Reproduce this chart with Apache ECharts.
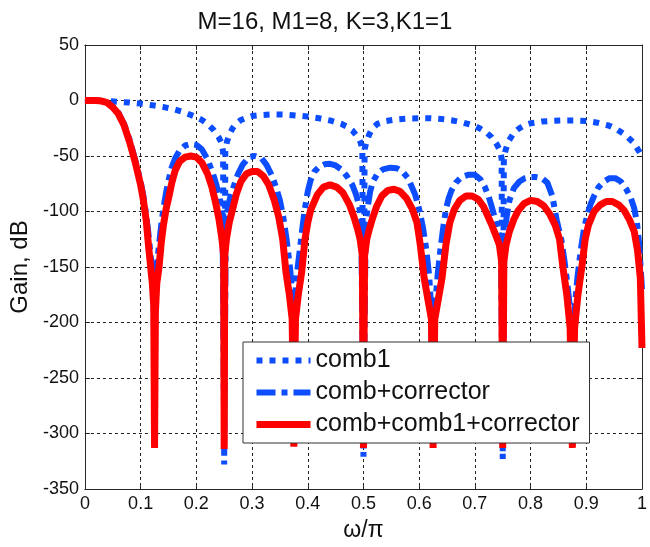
<!DOCTYPE html>
<html>
<head>
<meta charset="utf-8">
<script src="https://cdn.jsdelivr.net/npm/echarts@6/dist/echarts.min.js"></script>
<style>html,body{margin:0;padding:0;background:#fff;}#chart{width:650px;height:547px;}</style>
</head>
<body>
<div id="chart"></div>
<script>
const chartTitle = 'M=16, M1=8, K=3,K1=1';
const seriesNames = ['comb1', 'comb+corrector', 'comb+comb1+corrector'];
const xTickLabels = ['0','0.1','0.2','0.3','0.4','0.5','0.6','0.7','0.8','0.9','1'];
const yTickLabels = ['-350','-300','-250','-200','-150','-100','-50','0','50'];

const comb1X = [0,0.04,0.08,0.1,0.12,0.14,0.16,0.18,0.2,0.21,0.22,0.23,0.24,0.245,0.248,0.25,0.252,0.255,0.26,0.265,0.27,0.28,0.29,0.3,0.32,0.34,0.36,0.38,0.4,0.42,0.44,0.46,0.47,0.48,0.49,0.495,0.498,0.5,0.502,0.505,0.51,0.516,0.525,0.54,0.56,0.58,0.6,0.62,0.64,0.66,0.68,0.7,0.71,0.72,0.73,0.74,0.745,0.748,0.75,0.752,0.755,0.76,0.77,0.78,0.79,0.8,0.82,0.84,0.86,0.88,0.9,0.92,0.94,0.955,0.97,0.985,0.995,1.0];
const comb1Y = [0,-0.5,-1.8,-2.8,-4.2,-5.8,-8,-11,-15,-17.5,-21,-26,-33,-38,-46,-328,-46,-37,-30,-25,-21.5,-17.5,-15.5,-14,-13,-12.5,-12.7,-13.5,-14.5,-16,-18,-21,-23.5,-27,-33,-38,-44,-321,-44,-38,-31,-25,-21,-18.5,-17,-16.2,-16,-16,-16.7,-18,-20,-23,-25.5,-28.5,-33,-40,-45,-52,-323,-52,-45,-37,-29,-25,-22,-20.5,-19,-18.3,-18,-18,-18.5,-20,-22.5,-26,-31,-38,-46,-50];

const corrX = [0,0.01,0.02,0.03,0.04,0.05,0.06,0.07,0.08,0.09,0.1,0.105,0.11,0.114,0.118,0.121,0.1235,0.125,
  0.1265,0.129,0.133,0.137,0.141,0.146,0.151,0.156,0.162,0.17,0.18,0.19,0.2,0.21,0.22,0.23,0.236,0.242,0.247,0.25,
  0.253,0.257,0.262,0.268,0.275,0.283,0.294,0.305,0.317,0.326,0.335,0.343,0.35,0.356,0.362,0.368,0.372,0.375,
  0.378,0.382,0.388,0.394,0.4,0.405,0.412,0.42,0.43,0.44,0.45,0.46,0.47,0.48,0.487,0.492,0.496,0.5,
  0.504,0.508,0.512,0.517,0.525,0.535,0.548,0.56,0.57,0.58,0.593,0.6,0.607,0.613,0.618,0.621,0.625,
  0.629,0.633,0.638,0.643,0.648,0.653,0.658,0.666,0.676,0.688,0.7,0.71,0.718,0.725,0.731,0.737,0.743,0.747,0.75,
  0.753,0.757,0.762,0.77,0.78,0.79,0.8,0.81,0.82,0.83,0.839,0.847,0.855,0.861,0.866,0.871,0.875,
  0.879,0.884,0.89,0.896,0.902,0.908,0.914,0.922,0.932,0.942,0.952,0.962,0.972,0.98,0.986,0.991,0.995,1.0];
const corrY = [0,0,0,-0.4,-1.8,-5.5,-11,-21,-35,-53,-73,-86,-103,-120,-140,-155,-170,-300,
  -172,-150,-130,-112,-97,-82,-70,-60,-52,-45,-40.5,-39,-40,-44,-53,-66,-76,-88,-106,-300,
  -110,-95,-85,-76,-66,-58,-51,-50,-52,-58,-67,-78,-90,-105,-125,-150,-172,-300,
  -172,-150,-125,-100,-82,-72,-64,-60,-57.5,-57,-58.5,-62,-68,-76,-85,-95,-108,-300,
  -110,-95,-82,-73,-66,-62,-60.5,-61,-64,-70,-85,-98,-115,-135,-158,-183,-300,
  -183,-158,-135,-115,-98,-88,-81,-74,-69,-67,-67,-71,-78,-87,-97,-108,-120,-140,-300,
  -120,-105,-90,-79,-73,-70,-69,-69,-70,-74,-86,-108,-125,-145,-165,-188,-300,
  -188,-160,-135,-115,-103,-93,-86,-78,-73,-70,-70,-73,-80,-88,-97,-110,-130,-170];

const redX = [0,0.01,0.02,0.03,0.04,0.05,0.06,0.07,0.08,0.09,0.1,0.105,0.11,0.114,0.118,0.121,0.1235,0.125,
  0.1265,0.129,0.133,0.137,0.141,0.146,0.151,0.156,0.162,0.17,0.18,0.19,0.2,0.21,0.22,0.228,0.235,0.241,0.246,0.249,0.25,
  0.251,0.254,0.259,0.265,0.272,0.28,0.29,0.3,0.31,0.32,0.33,0.34,0.348,0.355,0.361,0.367,0.372,0.375,
  0.378,0.383,0.389,0.395,0.4,0.405,0.417,0.428,0.44,0.452,0.463,0.475,0.483,0.489,0.494,0.498,0.5,
  0.502,0.506,0.511,0.517,0.524,0.533,0.544,0.555,0.566,0.577,0.588,0.596,0.602,0.609,0.616,0.622,0.625,
  0.628,0.634,0.641,0.648,0.655,0.663,0.673,0.684,0.695,0.706,0.716,0.724,0.731,0.738,0.744,0.748,0.75,
  0.752,0.756,0.762,0.77,0.778,0.788,0.8,0.812,0.824,0.834,0.844,0.852,0.858,0.865,0.871,0.875,
  0.879,0.885,0.892,0.898,0.904,0.914,0.925,0.936,0.947,0.958,0.968,0.978,0.986,0.992,0.997,1.0];
const redY = [0,0,0,-0.5,-2,-6,-12,-22,-37,-55,-76,-90,-108,-130,-150,-165,-185,-313,
  -190,-165,-150,-128,-112,-97,-86,-74,-63,-55,-51,-50,-51,-56,-66,-78,-93,-108,-125,-140,-314,
  -140,-125,-110,-98,-84,-73,-66,-64,-64,-68,-76,-90,-105,-125,-155,-175,-197,-312,
  -197,-175,-155,-125,-110,-99,-85,-78,-76,-78,-83,-94,-105,-115,-125,-140,-313,
  -140,-125,-115,-105,-95,-86,-81,-80,-82,-88,-98,-110,-130,-160,-180,-197,-313,
  -197,-180,-160,-130,-110,-98,-90,-86,-86,-89,-96,-105,-113,-122,-130,-145,-313,
  -145,-130,-118,-107,-99,-93,-90,-91,-95,-102,-112,-125,-150,-175,-205,-313,
  -205,-175,-150,-125,-112,-100,-94,-91,-91,-94,-99,-108,-118,-135,-160,-223];

const blue = '#0b4dff';
const red = '#ff0000';

function pairs(xs, ys) { return xs.map((x, i) => [x, ys[i]]); }

const chart = echarts.init(document.getElementById('chart'), null, {renderer: 'canvas'});
const font = 'Liberation Sans, Arial, sans-serif';
const gridLine = {show: true, lineStyle: {color: '#222', width: 1, type: [3, 3]}};
const axisLine = {show: true, onZero: false, lineStyle: {color: '#262626', width: 1}};
const tick = {show: true, inside: true, length: 5, lineStyle: {color: '#262626'}};
const hideMark = {opacity: 0, color: 'transparent', borderWidth: 0};

chart.setOption({
  animation: false,
  backgroundColor: '#fff',
  title: {text: chartTitle, left: 'center', top: 5, textStyle: {fontFamily: font, fontSize: 24, fontWeight: 'normal', color: '#111'}},
  grid: {left: 79, right: 1, top: 45, bottom: 51},
  legend: {
    orient: 'vertical', left: 243, top: 342,
    backgroundColor: '#fff', borderColor: '#333', borderWidth: 1,
    padding: [6, 10, 6, 10], itemGap: 7, itemWidth: 54, itemHeight: 14,
    textStyle: {fontFamily: font, fontSize: 25, color: '#111'},
    data: [
      {name: seriesNames[0], lineStyle: {width: 6}, itemStyle: hideMark},
      {name: seriesNames[1], lineStyle: {width: 6}, itemStyle: hideMark},
      {name: seriesNames[2], lineStyle: {width: 7}, itemStyle: hideMark}
    ]
  },
  xAxis: [{
    type: 'value', min: 0, max: 1, interval: 0.1,
    name: 'ω/π', nameLocation: 'middle', nameGap: 30,
    nameTextStyle: {fontFamily: font, fontSize: 23, color: '#111'},
    axisLine: axisLine, axisTick: tick,
    axisLabel: {fontFamily: font, fontSize: 18, color: '#111', margin: 6, formatter: v => xTickLabels[Math.round(v * 10)]},
    splitLine: gridLine
  }, {
    type: 'value', min: 0, max: 1, interval: 0.1, position: 'top',
    axisLine: axisLine, axisTick: tick, axisLabel: {show: false}, splitLine: {show: false}
  }],
  yAxis: [{
    type: 'value', min: -350, max: 50, interval: 50,
    name: 'Gain, dB', nameLocation: 'middle', nameGap: 46,
    nameTextStyle: {fontFamily: font, fontSize: 24, color: '#111'},
    axisLine: axisLine, axisTick: tick,
    axisLabel: {fontFamily: font, fontSize: 18, color: '#111', margin: 6, formatter: v => yTickLabels[Math.round((v + 350) / 50)]},
    splitLine: gridLine
  }, {
    type: 'value', min: -350, max: 50, interval: 50, position: 'right',
    axisLine: axisLine, axisTick: tick, axisLabel: {show: false}, splitLine: {show: false}
  }],
  series: [
    {name: seriesNames[0], type: 'line', data: pairs(comb1X, comb1Y), showSymbol: false, symbol: 'none',
     color: blue, lineStyle: {color: blue, width: 6, type: [6, 7], cap: 'butt'}},
    {name: seriesNames[1], type: 'line', data: pairs(corrX, corrY), showSymbol: false, symbol: 'none',
     color: blue, lineStyle: {color: blue, width: 6, type: [19, 6, 6, 6], cap: 'butt'}},
    {name: seriesNames[2], type: 'line', data: pairs(redX, redY), showSymbol: false, symbol: 'none',
     color: red, lineStyle: {color: red, width: 7, type: 'solid'}}
  ]
});
</script>
</body>
</html>
